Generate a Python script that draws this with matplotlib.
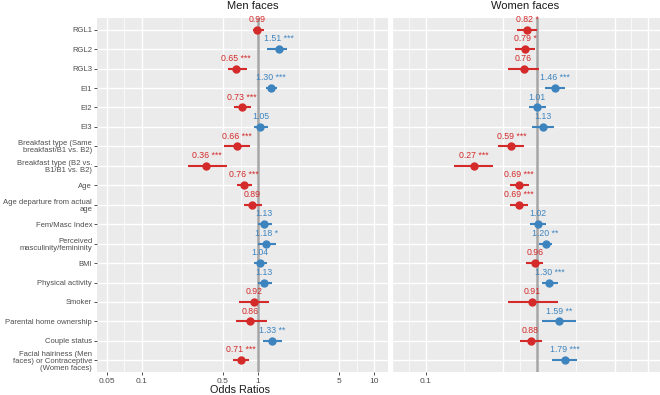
import matplotlib
matplotlib.use('Agg')
import matplotlib.pyplot as plt
import numpy as np

plt.rcParams['font.family'] = ['Liberation Sans', 'DejaVu Sans']

# rows top to bottom
labels = [
    "RGL1", "RGL2", "RGL3", "EI1", "EI2", "EI3",
    "Breakfast type (Same\nbreakfast/B1 vs. B2)",
    "Breakfast type (B2 vs.\nB1/B1 vs. B2)",
    "Age", "Age departure from actual\nage", "Fem/Masc Index",
    "Perceived\nmasculinity/femininity", "BMI", "Physical activity",
    "Smoker", "Parental home ownership", "Couple status",
    "Facial hairiness (Men\nfaces) or Contraceptive\n(Women faces)",
]

men_or = [0.99, 1.51, 0.65, 1.30, 0.73, 1.05, 0.66, 0.36, 0.76,
          0.89, 1.13, 1.18, 1.04, 1.13, 0.92, 0.86, 1.33, 0.71]
men_lo = [0.91, 1.20, 0.55, 1.17, 0.62, 0.92, 0.51, 0.25, 0.66,
          0.76, 1.00, 1.00, 0.92, 1.00, 0.69, 0.65, 1.10, 0.61]
men_hi = [1.13, 1.78, 0.80, 1.46, 0.87, 1.22, 0.85, 0.54, 0.89,
          1.08, 1.32, 1.43, 1.20, 1.32, 1.24, 1.20, 1.61, 0.84]
men_sig = ["", "***", "***", "***", "***", "", "***", "***", "***",
           "", "", "*", "", "", "", "", "**", "***"]

women_or = [0.82, 0.79, 0.76, 1.46, 1.01, 1.13, 0.59, 0.27, 0.69,
            0.69, 1.02, 1.20, 0.96, 1.30, 0.91, 1.59, 0.88, 1.79]
women_lo = [0.67, 0.64, 0.55, 1.18, 0.85, 0.90, 0.45, 0.18, 0.57,
            0.58, 0.87, 1.04, 0.80, 1.12, 0.55, 1.12, 0.70, 1.36]
women_hi = [1.00, 0.97, 1.05, 1.80, 1.20, 1.42, 0.77, 0.40, 0.85,
            0.84, 1.21, 1.37, 1.14, 1.54, 1.54, 2.25, 1.12, 2.30]
women_sig = ["*", "*", "", "***", "", "", "***", "***", "***",
             "***", "", "**", "", "***", "", "**", "", "***"]

breaks = [0.05, 0.1, 0.5, 1, 5, 10]
break_labels = ["0.05", "0.1", "0.5", "1", "5", "10"]

RED = "#d42a2a"
BLUE = "#3d84bf"
GREY_TXT = "#4d4d4d"

W, H = 660, 395
fig = plt.figure(figsize=(W / 100, H / 100), dpi=100)


def px_axes(x0, x1, y0, y1):
    return fig.add_axes([x0 / W, 1 - y1 / H, (x1 - x0) / W, (y1 - y0) / H])


def draw_panel(ax, est, lo, hi, sig, xlim):
    n = len(est)
    ypos = np.arange(n)
    ax.set_facecolor("#ebebeb")
    ax.set_xscale("log")
    ax.set_xlim(*xlim)
    ax.set_ylim(n - 0.4, -0.6)
    # grid
    logb = np.log10(breaks)
    minors = 10 ** ((logb[:-1] + logb[1:]) / 2)
    for m in minors:
        ax.axvline(m, color="white", lw=0.5, zorder=0)
    for b in breaks:
        ax.axvline(b, color="white", lw=1.0, zorder=0)
    for y in ypos:
        ax.axhline(y, color="white", lw=1.0, zorder=0)
    ax.axvline(1, color="#a6a6a6", lw=1.8, zorder=1)
    for i in range(n):
        c = RED if est[i] < 1 else BLUE
        ax.plot([lo[i], hi[i]], [i, i], color=c, lw=1.5, zorder=2,
                solid_capstyle="butt")
        ax.plot(est[i], i, "o", color=c, ms=5, zorder=3)
        txt = f"{est[i]:.2f}" + (f" {sig[i]}" if sig[i] else "")
        ax.text(est[i], i - 0.3, txt, color=c, fontsize=6.3,
                ha="center", va="bottom", zorder=4)
    for s in ax.spines.values():
        s.set_visible(False)
    ax.set_xticks(breaks)
    ax.set_xticks([], minor=True)
    ax.tick_params(axis="both", colors="#333333", length=2.5, width=0.6,
                   labelsize=6, labelcolor=GREY_TXT, pad=2)


ax1 = px_axes(97, 388, 18, 372)
draw_panel(ax1, men_or, men_lo, men_hi, men_sig, (0.041, 13.2))
ax1.set_xticklabels(break_labels)
ax1.set_yticks(np.arange(len(labels)))
ax1.set_yticklabels(labels, linespacing=1.0, fontsize=5.5)
ax1.tick_params(axis="y", pad=1.5, length=2)

ax2 = px_axes(392, 660, 18, 372)
draw_panel(ax2, women_or, women_lo, women_hi, women_sig, (0.063, 12.8))
ax2.set_xticks([0.1])
ax2.set_xticklabels(["0.1"])
ax2.set_yticks([])

fig.text(253 / W, 1 - 6 / H, "Men faces", ha="center", va="center",
         fontsize=8, color="#1a1a1a")
fig.text(525 / W, 1 - 6 / H, "Women faces", ha="center", va="center",
         fontsize=8, color="#1a1a1a")
fig.text(240 / W, 1 - 393 / H, "Odds Ratios", ha="center", va="baseline",
         fontsize=7.8, color="#1a1a1a")

fig.savefig("out.png", dpi=100)
